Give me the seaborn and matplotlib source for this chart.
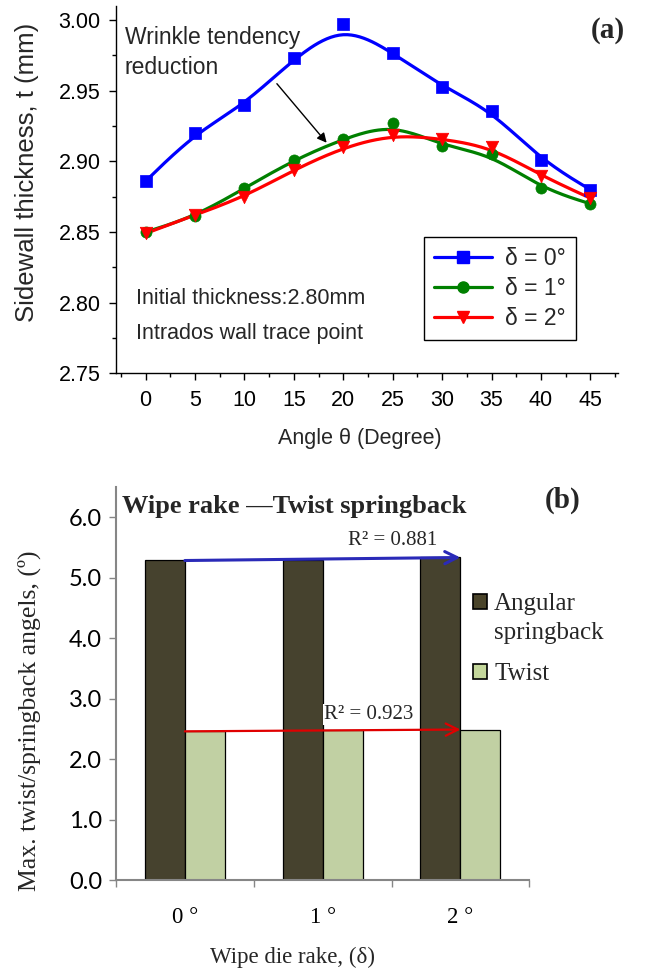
import numpy as np
import pandas as pd
import matplotlib
matplotlib.use("Agg")
import matplotlib.pyplot as plt
from matplotlib.lines import Line2D
from matplotlib.patches import Patch
from matplotlib.ticker import MultipleLocator, FixedLocator
import seaborn as sns

# ---------------- data ----------------
theta = [0, 5, 10, 15, 20, 25, 30, 35, 40, 45]
thick_d0 = [2.886, 2.920, 2.940, 2.973, 2.997, 2.977, 2.953, 2.936, 2.901, 2.880]
thick_d1 = [2.850, 2.861, 2.881, 2.901, 2.916, 2.927, 2.911, 2.905, 2.881, 2.870]
thick_d2 = [2.849, 2.862, 2.875, 2.894, 2.910, 2.919, 2.916, 2.910, 2.890, 2.874]
series_labels = ["δ = 0°", "δ = 1°", "δ = 2°"]

rake_labels = ["0 °", "1 °", "2 °"]
angular = [5.29, 5.30, 5.34]
twist = [2.46, 2.48, 2.49]
bar_series = ["Angular springback", "Twist"]
r2_texts = ["R² = 0.881", "R² = 0.923"]

# ---------------- style ----------------
sns.set_style("white")
plt.rcParams["font.family"] = ["Liberation Sans", "DejaVu Sans"]
SERIF = ["Liberation Serif", "DejaVu Serif"]

fig = plt.figure(figsize=(6.52, 9.71), dpi=100)
W, H = 652, 971


def fx(px):
    return px / W


def fy(py):
    return 1 - py / H


ax1 = fig.add_axes([fx(116), fy(373.3), fx(618) - fx(116), fy(6) - fy(373.3)])
ax2 = fig.add_axes([fx(116), fy(880.3), fx(529.3) - fx(116), fy(487) - fy(880.3)])


def bspline(x, y, n=24):
    """Uniform cubic B-spline through clamped end points (curve style only)."""
    x = np.asarray(x, float)
    y = np.asarray(y, float)
    px = np.r_[x[0], x[0], x, x[-1], x[-1]]
    py = np.r_[y[0], y[0], y, y[-1], y[-1]]
    t = np.linspace(0, 1, n, endpoint=False)
    b0 = (1 - t) ** 3 / 6
    b1 = (3 * t ** 3 - 6 * t ** 2 + 4) / 6
    b2 = (-3 * t ** 3 + 3 * t ** 2 + 3 * t + 1) / 6
    b3 = t ** 3 / 6
    xs, ys = [], []
    for i in range(len(px) - 3):
        xs.append(b0 * px[i] + b1 * px[i + 1] + b2 * px[i + 2] + b3 * px[i + 3])
        ys.append(b0 * py[i] + b1 * py[i + 1] + b2 * py[i + 2] + b3 * py[i + 3])
    xs.append([x[-1]])
    ys.append([y[-1]])
    return np.concatenate(xs), np.concatenate(ys)


# ---------------- panel (a) ----------------
colors = ["#0000FF", "#008000", "#FF0000"]
markers = ["s", "o", "v"]
msizes = [8, 8, 9]
handles = []
for vals, lab, c, m, ms in zip([thick_d0, thick_d1, thick_d2], series_labels, colors, markers, msizes):
    sx, sy = bspline(theta, vals)
    sns.lineplot(x=sx, y=sy, color=c, lw=2.3, ax=ax1, sort=False, estimator=None)
    sns.scatterplot(x=theta, y=vals, color=c, marker=m, s=ms ** 2, edgecolor=c, linewidth=0.5, ax=ax1, zorder=5)
    handles.append(Line2D([0], [0], color=c, lw=2.3, marker=m, markersize=ms, markeredgecolor=c))

ax1.set_xlim(-3, 47.8)
ax1.set_ylim(2.75, 3.01)
ax1.xaxis.set_major_locator(FixedLocator(theta))
ax1.xaxis.set_minor_locator(MultipleLocator(2.5))
ax1.yaxis.set_major_locator(MultipleLocator(0.05))
ax1.yaxis.set_minor_locator(MultipleLocator(0.025))
ax1.yaxis.set_major_formatter(matplotlib.ticker.FormatStrFormatter("%.2f"))
for s in ["top", "right"]:
    ax1.spines[s].set_visible(False)
for s in ["left", "bottom"]:
    ax1.spines[s].set_color("black")
    ax1.spines[s].set_linewidth(1.0)
ax1.tick_params(which="major", direction="out", length=5, width=1, colors="black",
                labelsize=15.5, bottom=True, left=True)
ax1.tick_params(axis="x", which="major", pad=7)
ax1.tick_params(axis="y", which="major", pad=6)
ax1.tick_params(which="minor", direction="out", length=3, width=1, colors="black",
                bottom=True, left=True)
ax1.set_xlabel("")
ax1.set_ylabel("")

fig.text(fx(27), fy(172), "Sidewall thickness, t (mm)", rotation=90, ha="center", va="center", fontsize=18.5)
fig.text(fx(360), fy(438), "Angle θ (Degree)", ha="center", va="center", fontsize=15.5)

ax1.text(-2.1, 3.00 - (38 - 20.3) / 1412, "Wrinkle tendency", ha="left", va="center", fontsize=16.5)
ax1.text(-2.1, 3.00 - (68 - 20.3) / 1412, "reduction", ha="left", va="center", fontsize=16.5)
ax1.annotate("", xy=(18.5, 2.9117), xytext=(13.1, 2.9565),
             arrowprops=dict(arrowstyle="-|>", color="black", lw=1.0, mutation_scale=14))
ax1.text(-1.0, 2.8033, "Initial thickness:2.80mm", ha="left", va="center", fontsize=15.5)
ax1.text(-1.0, 2.7785, "Intrados wall trace point", ha="left", va="center", fontsize=15.5)

leg1 = ax1.legend(handles=handles, labels=series_labels, loc="upper left",
                  bbox_to_anchor=((424 - 116) / 502, (373.3 - 236.7) / 367.3),
                  fontsize=16.5, frameon=True, fancybox=False, borderaxespad=0,
                  handlelength=2.5, handletextpad=0.6, labelspacing=0.3, borderpad=0.45)
leg1.get_frame().set_edgecolor("black")
leg1.get_frame().set_linewidth(1.0)
leg1.get_frame().set_alpha(1)

fig.text(fx(625), fy(31), "(a)", ha="right", va="center", fontsize=21, fontweight="bold", family=SERIF)

# ---------------- panel (b) ----------------
df = pd.DataFrame({
    "rake": rake_labels * 2,
    "series": [bar_series[0]] * 3 + [bar_series[1]] * 3,
    "value": angular + twist,
})
bar_colors = ["#4a442a", "#c4d79b"]
sns.barplot(data=df, x="rake", y="value", hue="series", palette=bar_colors, width=0.58,
            edgecolor="black", linewidth=0.9, ax=ax2, legend=False, zorder=2)

ax2.set_xlim(-0.5, 2.5)
ax2.set_ylim(0, 6.5)
ax2.yaxis.set_major_locator(MultipleLocator(1.0))
ax2.yaxis.set_major_formatter(matplotlib.ticker.FormatStrFormatter("%.1f"))
ax2.xaxis.set_minor_locator(FixedLocator([-0.5, 0.5, 1.5, 2.5]))
for s in ["top", "right"]:
    ax2.spines[s].set_visible(False)
for s in ["left", "bottom"]:
    ax2.spines[s].set_color("#868686")
    ax2.spines[s].set_linewidth(1.5)
ax2.tick_params(axis="y", which="major", direction="out", length=5, width=1, colors="#868686",
                labelcolor="black", labelsize=17, left=True, pad=5)
ax2.tick_params(axis="x", which="major", length=0, labelsize=16.5, pad=19, labelcolor="black")
ax2.tick_params(axis="x", which="minor", direction="out", length=5, width=1, colors="#868686", bottom=True)
for lab in ax2.get_yticklabels():
    lab.set_family(["Lato", "DejaVu Sans"])
for lab in ax2.get_xticklabels():
    lab.set_family(SERIF)
ax2.set_xlabel("")
ax2.set_ylabel("")

# linear trend arrows
xpos = np.arange(len(rake_labels))
for vals, col, lw in [(angular, "#2a2ab8", 2.2), (twist, "#e00000", 1.6)]:
    k, b = np.polyfit(xpos, vals, 1)
    ax2.annotate("", xy=(xpos[-1], k * xpos[-1] + b), xytext=(xpos[0], k * xpos[0] + b),
                 arrowprops=dict(arrowstyle="->", color=col, lw=lw, mutation_scale=22,
                                 shrinkA=0, shrinkB=0), zorder=4)

ax2.text(1.83, 5.615, r2_texts[0], ha="right", va="center", fontsize=15, family=SERIF, zorder=5)
ax2.text(1.01, 2.74, r2_texts[1], ha="left", va="center", fontsize=15, family=SERIF, zorder=5,
         bbox=dict(facecolor="white", edgecolor="none", pad=1))

# legend for panel (b): square aligned with the first line of the two-line label
ang_words = bar_series[0].split(" ")
leg_kw = dict(loc="upper left", bbox_transform=fig.transFigure, frameon=False, borderaxespad=0,
              borderpad=0, prop=dict(family=SERIF, size=18), handlelength=0.55, handleheight=0.55,
              handletextpad=0.3, labelspacing=0.3)
leg2a = ax2.legend(handles=[Patch(facecolor=bar_colors[0], edgecolor="black", linewidth=1.2),
                            Patch(facecolor="none", edgecolor="none")],
                   labels=ang_words, bbox_to_anchor=(fx(473), fy(593)), **leg_kw)
ax2.add_artist(leg2a)
leg2b = ax2.legend(handles=[Patch(facecolor=bar_colors[1], edgecolor="black", linewidth=1.2)],
                   labels=[bar_series[1]], bbox_to_anchor=(fx(473), fy(663)), **leg_kw)

fig.text(fx(122), fy(507), "Wipe rake —Twist springback", ha="left", va="center",
         fontsize=19, fontweight="bold", family=SERIF)
fig.text(fx(580), fy(500), "(b)", ha="right", va="center", fontsize=21, fontweight="bold", family=SERIF)
fig.text(fx(29), fy(721), "Max. twist/springback angels, (º)", rotation=90, ha="center", va="center",
         fontsize=18.5, family=SERIF)
fig.text(fx(293), fy(957), "Wipe die rake, (δ)", ha="center", va="center", fontsize=16.5, family=SERIF)

fig.savefig("out.png", dpi=100)
